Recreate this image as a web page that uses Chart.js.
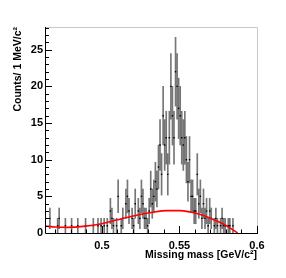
<!DOCTYPE html>
<html>
<head>
<meta charset="utf-8">
<script src="https://cdn.jsdelivr.net/npm/chart.js@4.4.1/dist/chart.umd.min.js"></script>
<style>
  html, body { margin: 0; padding: 0; background: #fff; }
  canvas { display: block; }
</style>
</head>
<body>
<canvas id="mm" width="286" height="278"></canvas>
<script>
// histogram: 1 MeV bins starting at 0.464 GeV
const binStart = 0.464
const binWidth = 0.001
const counts = [
  0, 0, 2, 0, 0, 0, 0, 1, 2, 0,
  0, 0, 1, 0, 0, 0, 1, 0, 0, 0,
  1, 0, 0, 0, 0, 1, 0, 0, 0, 0,
  1, 0, 0, 1, 0, 1, 0, 1, 0, 1,
  0, 3, 2, 1, 0, 1, 5, 0, 1, 2,
  0, 4, 5, 3, 0, 2, 1, 4, 0, 3,
  2, 5, 4, 2, 2, 1, 3, 6, 4, 5,
  7, 6, 9, 12, 8, 16, 12, 13, 8, 13,
  20, 16, 13, 22, 20, 17, 16, 13, 12, 13,
  10, 7, 10, 5, 5, 3, 3, 8, 4, 5,
  2, 4, 2, 3, 1, 3, 2, 0, 1, 2,
  1, 0, 1, 2, 1, 1, 0, 1, 1, 0,
  1, 0, 0, 0, 0, 0, 0, 0, 0, 0,
  0, 0, 0, 0, 0, 0
]

// background fit (red)
const fitX = [0.464, 0.470, 0.478, 0.488, 0.500, 0.510, 0.521, 0.532, 0.542, 0.550, 0.557, 0.564, 0.570, 0.577, 0.583, 0.5875]
const fitY = [0.95, 0.82, 0.77, 0.9, 1.27, 1.8, 2.36, 2.8, 3.05, 3.05, 2.86, 2.5, 2.0, 1.36, 0.64, 0]

const xTickLabels = [0.5, 0.55, 0.6]
const yTickLabels = [0, 5, 10, 15, 20, 25]

const xTitle = 'Missing mass [GeV/c\u00B2]'
const yTitle = 'Counts/ 1 MeV/c\u00B2'

Chart.defaults.font.family = "'Liberation Sans', Arial, sans-serif"
Chart.defaults.color = '#000'

// error bars (sqrt N) and bin markers, zero bins are not drawn
const errBars = []
const markers = []
counts.forEach(function (n, i) {
  if (n === 0) return
  const c = binStart + (i + 0.5) * binWidth
  const e = Math.sqrt(n)
  errBars.push({ x: c, y: [n - e, n + e] })
  markers.push({ x: c, y: n })
})

const fitLine = fitX.map(function (x, i) { return { x: x, y: fitY[i] } })

// ROOT style inner ticks + frame
const rootFrame = {
  id: 'rootFrame',
  afterDraw(chart) {
    const { ctx, chartArea: a, scales: { x, y } } = chart
    ctx.save()
    ctx.lineWidth = 1
    ctx.strokeStyle = '#c8c8c8'
    ctx.beginPath()
    ctx.moveTo(a.left, a.top + 0.5)
    ctx.lineTo(a.right + 0.5, a.top + 0.5)
    ctx.lineTo(a.right + 0.5, a.bottom)
    ctx.stroke()

    ctx.strokeStyle = '#000'
    ctx.beginPath()
    ctx.moveTo(a.left - 0.5, a.top)
    ctx.lineTo(a.left - 0.5, a.bottom + 0.5)
    ctx.lineTo(a.right + 1, a.bottom + 0.5)
    for (let v = 0; v <= 28; v++) {
      const py = Math.round(y.getPixelForValue(v)) + 0.5
      const len = v % 5 === 0 ? 6 : 3
      ctx.moveTo(a.left, py)
      ctx.lineTo(a.left + len, py)
    }
    for (let k = 47; k <= 60; k++) {
      const px = Math.round(x.getPixelForValue(k / 100)) + 0.5
      const len = k % 5 === 0 ? 7 : 3.5
      ctx.moveTo(px, a.bottom)
      ctx.lineTo(px, a.bottom - len)
    }
    ctx.stroke()
    ctx.restore()
  }
}

new Chart(document.getElementById('mm'), {
  type: 'bar',
  data: {
    datasets: [
      {
        type: 'line',
        label: 'fit',
        data: fitLine,
        borderColor: '#ff0000',
        borderWidth: 1.6,
        pointRadius: 0,
        cubicInterpolationMode: 'monotone',
        fill: false
      },
      {
        type: 'line',
        label: 'bins',
        data: markers,
        showLine: false,
        pointStyle: 'rect',
        pointRadius: 1,
        backgroundColor: '#000',
        borderColor: '#000',
        borderWidth: 0
      },
      {
        type: 'bar',
        label: 'errors',
        data: errBars,
        backgroundColor: 'rgba(60,60,60,0.7)',
        barThickness: 1,
        grouped: false
      }
    ]
  },
  options: {
    responsive: false,
    animation: false,
    layout: { padding: { top: 27, right: 29, left: 0, bottom: 0 } },
    plugins: {
      legend: { display: false },
      tooltip: { enabled: false }
    },
    scales: {
      x: {
        type: 'linear',
        offset: false,
        min: binStart,
        max: 0.6,
        grid: { display: false, drawTicks: false, offset: false },
        border: { display: false },
        afterFit(axis) { axis.height = 45 },
        afterBuildTicks(axis) { axis.ticks = xTickLabels.map(v => ({ value: v })) },
        ticks: {
          padding: 6,
          maxRotation: 0,
          autoSkip: false,
          font: { size: 11, weight: 'bold' },
          callback: v => String(v)
        },
        title: {
          display: true,
          text: xTitle,
          align: 'end',
          font: { size: 10.5, weight: 'bold' },
          padding: { top: 0, bottom: 17 }
        }
      },
      y: {
        min: 0,
        max: 28.1,
        grid: { display: false, drawTicks: false },
        border: { display: false },
        afterFit(axis) { axis.width = 46 },
        afterBuildTicks(axis) { axis.ticks = yTickLabels.map(v => ({ value: v })) },
        ticks: {
          padding: 3,
          autoSkip: false,
          font: { size: 11, weight: 'bold' },
          callback: v => String(v)
        },
        title: {
          display: true,
          text: yTitle,
          align: 'end',
          font: { size: 10.5, weight: 'bold' },
          padding: { top: 12, bottom: 0 }
        }
      }
    }
  },
  plugins: [rootFrame]
})
</script>
</body>
</html>
